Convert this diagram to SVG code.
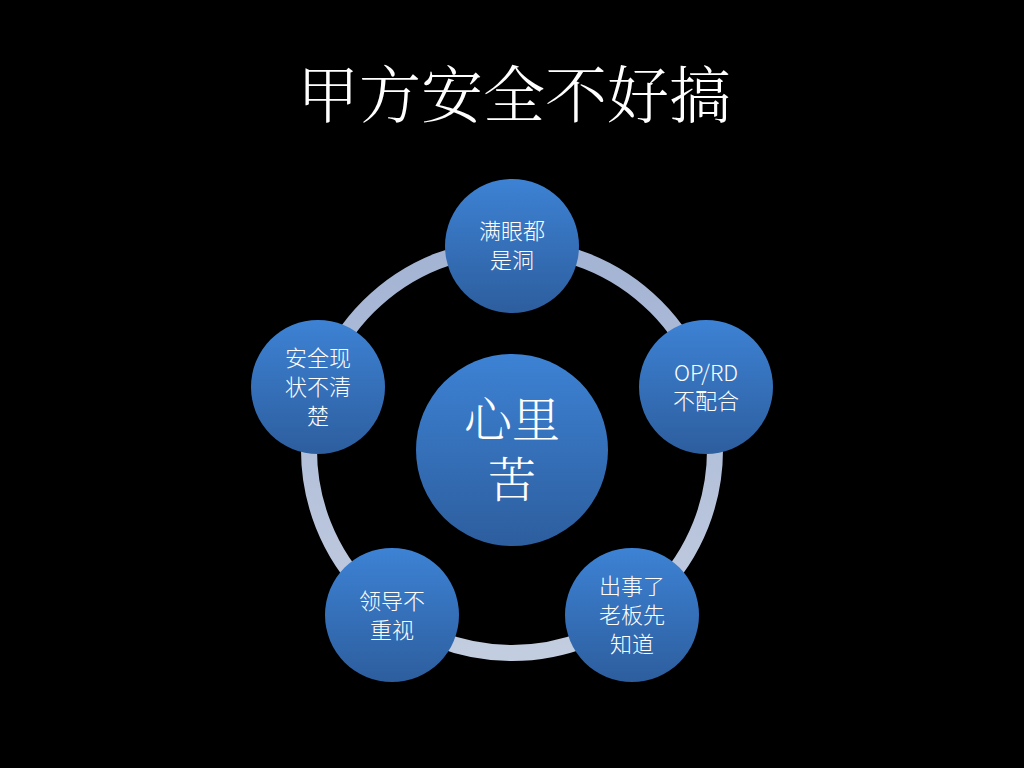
<svg xmlns="http://www.w3.org/2000/svg" width="1024" height="768" viewBox="0 0 1024 768">
<defs>
<linearGradient id="ball" x1="0" y1="0" x2="0" y2="1">
<stop offset="0" stop-color="#3d82d4"/>
<stop offset="1" stop-color="#2d5e9e"/>
</linearGradient>
<linearGradient id="ringg" x1="0" y1="0" x2="0" y2="1">
<stop offset="0" stop-color="#a3b3d3"/>
<stop offset="1" stop-color="#c3cde0"/>
</linearGradient>
<style>
.node{fill:url(#ball)}
.t{fill:#ffffff;font-family:"Noto Sans CJK SC","Noto Sans",sans-serif;font-weight:300;font-size:22px;text-anchor:middle}
.big{fill:#ffffff;font-family:"Noto Serif CJK SC","Noto Sans CJK SC",serif;font-weight:300;text-anchor:middle}
</style>
</defs>
<rect width="1024" height="768" fill="#000"/>
<text class="big" x="514" y="118" font-size="62">甲方安全不好搞</text>
<g id="connectors">
<circle cx="512" cy="450" r="203" fill="none" stroke="url(#ringg)" stroke-width="16"/>
</g>
<g id="center">
<circle class="node" cx="512" cy="450" r="96"/>
<text class="big" x="512" y="437" font-size="48">心里</text>
<text class="big" x="512" y="497" font-size="48">苦</text>
</g>
<g id="n1">
<circle class="node" cx="512" cy="246" r="67"/>
<text class="t" x="512" y="239">满眼都</text>
<text class="t" x="512" y="268">是洞</text>
</g>
<g id="n2">
<circle class="node" cx="706" cy="387" r="67"/>
<text class="t" x="706" y="381">OP/RD</text>
<text class="t" x="706" y="409">不配合</text>
</g>
<g id="n3">
<circle class="node" cx="632" cy="615" r="67"/>
<text class="t" x="632" y="594">出事了</text>
<text class="t" x="632" y="623">老板先</text>
<text class="t" x="632" y="652">知道</text>
</g>
<g id="n4">
<circle class="node" cx="392" cy="615" r="67"/>
<text class="t" x="392" y="609">领导不</text>
<text class="t" x="392" y="638">重视</text>
</g>
<g id="n5">
<circle class="node" cx="318" cy="387" r="67"/>
<text class="t" x="318" y="366">安全现</text>
<text class="t" x="318" y="395">状不清</text>
<text class="t" x="318" y="424">楚</text>
</g>
</svg>
